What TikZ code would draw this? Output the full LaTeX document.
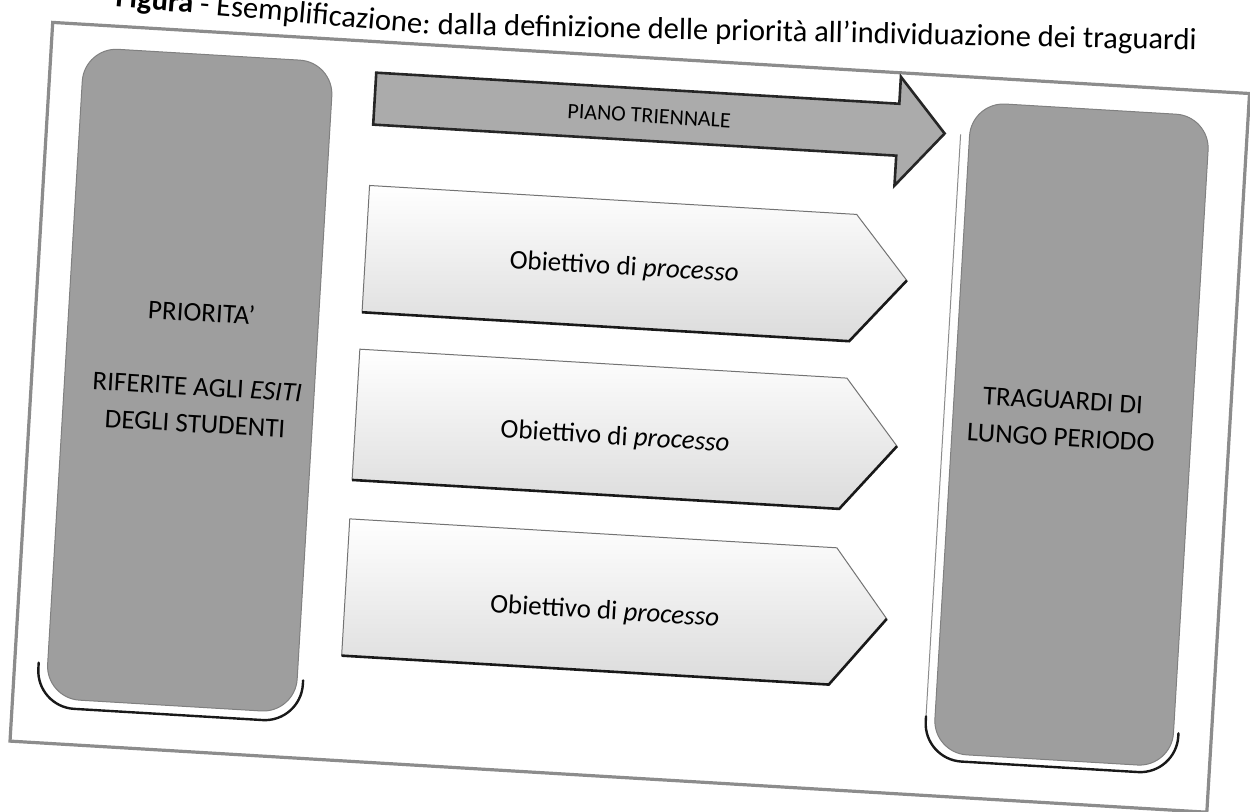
\documentclass[tikz,border=0pt]{standalone}
\usepackage{fontspec}
\setmainfont{Carlito}
\begin{document}
\begin{tikzpicture}[x=0.5pt,y=-0.5pt,
  frameline/.style={draw=black!45, line width=1.6pt},
  bigbox/.style={fill=black!38, draw=black!50, line width=0.5pt, rounded corners=17pt},
  curvshadow/.style={draw=black!90, line width=1.2pt, line cap=round, rounded corners=19pt},
  thinshadow/.style={draw=black!45, line width=0.5pt},
  planarrow/.style={fill=black!33, draw=black!85, line width=1.3pt, line join=miter},
  objbox/.style={top color=white, bottom color=black!14, draw=black!55, line width=0.5pt, line join=miter},
  objshadow/.style={draw=black!90, line width=1.3pt, line join=miter},
  boxtext/.style={align=center, font=\fontsize{13.5pt}{18.5pt}\selectfont, inner sep=0pt},
  objtext/.style={font=\fontsize{13.5pt}{16pt}\selectfont, inner sep=0pt},
  plantext/.style={font=\fontsize{11pt}{13pt}\selectfont, inner sep=0pt},
  titletext/.style={inner sep=0pt, font=\fontsize{15.3pt}{18pt}\selectfont}]
\useasboundingbox (-625,-405) rectangle (625,406);
\fill[white] (-625,-405) rectangle (625,406);
\node[titletext, anchor=base east, rotate=-1.2] (title2) at (572,-355)
  {dalla definizione delle priorità all’individuazione dei traguardi};
\node[titletext, anchor=base east, rotate=-5] (title1) at ([xshift=-3.5pt]title2.base west)
  {\textbf{Figura} - Esemplificazione:};
\begin{scope}[rotate=-3.4, every node/.append style={transform shape}]
  % outer frame
  \draw[frameline] (-594,-348) rectangle (605,372);
  % left box
  \draw[bigbox] (-561,-325) rectangle (-311,327);
  \draw[curvshadow] (-570,292) -- (-570,336) -- (-305,336) -- (-305,294);
  \node[boxtext] (prio) at (-428,-12) {PRIORITA’\\[18.5pt]RIFERITE AGLI \textit{ESITI}\\DEGLI STUDENTI};
  % right box
  \draw[thinshadow] (319,-290) -- (319,293);
  \draw[bigbox] (328,-323) rectangle (567,329);
  \draw[curvshadow] (319,293) -- (319,336) -- (572,336) -- (572,295);
  \node[boxtext] (trag) at (437,-12) {TRAGUARDI DI\\LUNGO PERIODO};
  % top arrow
  \draw[planarrow] (-268,-317) -- (256,-317) -- (256,-344) -- (303,-290) -- (256,-235) -- (256,-265) -- (-268,-265) -- cycle;
  \node[plantext] (piano) at (7,-290) {PIANO TRIENNALE};
  % objective boxes
  \draw[objbox] (-268,-204) -- (220,-204) -- (274,-141) -- (220,-77) -- (-268,-77) -- cycle;
  \draw[objshadow] (-268,-77) -- (220,-77) -- (274,-141);
  \node[objtext] (ob1) at (-9,-137) {Obiettivo di \textit{processo}};
  \draw[objbox] (-268,-40) -- (220,-40) -- (274,25) -- (220,91) -- (-268,91) -- cycle;
  \draw[objshadow] (-268,91) -- (220,91) -- (274,25);
  \node[objtext] (ob2) at (-8,33) {Obiettivo di \textit{processo}};
  \draw[objbox] (-268,130) -- (220,130) -- (274,198) -- (220,267) -- (-268,267) -- cycle;
  \draw[objshadow] (-268,267) -- (220,267) -- (274,198);
  \node[objtext] (ob3) at (-8,208) {Obiettivo di \textit{processo}};
\end{scope}
\end{tikzpicture}
\end{document}
